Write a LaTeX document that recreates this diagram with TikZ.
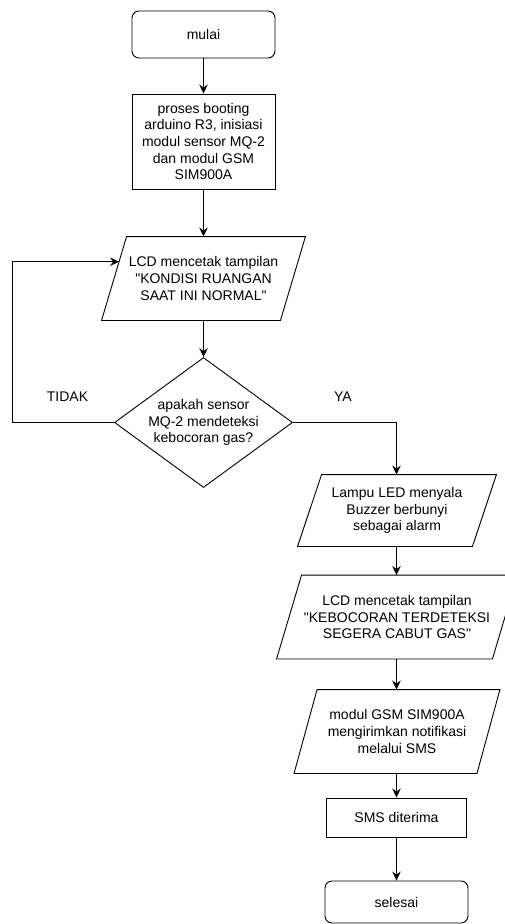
\documentclass[tikz,border=0pt]{standalone}
\usepackage{fontspec}
\setmainfont{Liberation Sans}[Ligatures=TeXOff]
\usetikzlibrary{arrows.meta,positioning,calc,shapes.geometric}

\begin{document}
\begin{tikzpicture}[x=1pt,y=-1pt,line width=0.9pt,
  font=\fontsize{14}{16.7}\selectfont,
  arr/.style={-{Stealth[length=9pt,width=8.5pt,inset=3pt]}},
  startstop/.style={draw,rounded corners=7pt,minimum width=143pt,minimum height=47pt,align=center},
  procbox/.style={draw,minimum width=143pt,minimum height=95pt,align=center,inner sep=0pt},
  iobody/.style={align=center,inner sep=0pt},
  decision/.style={draw,diamond,shape aspect=1.37,minimum width=178pt,minimum height=130pt,
    align=center,inner sep=0pt}]
\useasboundingbox (0,0) rectangle (504,924);

\node[startstop] (mulai) at (203.5,34.5) {mulai};
\node[procbox] (boot) at (203.5,141.5) {proses booting\\arduino R3, inisiasi\\modul sensor MQ-2\\dan modul GSM\\SIM900A};
\node[iobody,minimum width=178pt,minimum height=83pt] (lcdnormal) at (203.5,278.5)
  {LCD mencetak tampilan\\"KONDISI RUANGAN\\SAAT INI NORMAL"};
\draw ([xshift=12.5pt]lcdnormal.north west) -- ([xshift=12.5pt]lcdnormal.north east)
  -- ([xshift=-12.5pt]lcdnormal.south east) -- ([xshift=-12.5pt]lcdnormal.south west) -- cycle;
\node[decision] (cek) at (203.5,422.5) {apakah sensor\\MQ-2 mendeteksi\\kebocoran gas?};

\node[iobody,minimum width=174pt,minimum height=71pt] (alarm) at (397,510.5)
  {Lampu LED menyala\\Buzzer berbunyi\\sebagai alarm};
\draw ([xshift=12pt]alarm.north west) -- ([xshift=12pt]alarm.north east)
  -- ([xshift=-12pt]alarm.south east) -- ([xshift=-12pt]alarm.south west) -- cycle;
\node[iobody,minimum width=215pt,minimum height=83pt] (lcdbocor) at (397,617)
  {LCD mencetak tampilan\\"KEBOCORAN TERDETEKSI\\SEGERA CABUT GAS"};
\draw ([xshift=12.5pt]lcdbocor.north west) -- ([xshift=12.5pt]lcdbocor.north east)
  -- ([xshift=-12.5pt]lcdbocor.south east) -- ([xshift=-12.5pt]lcdbocor.south west) -- cycle;
\node[iobody,minimum width=182pt,minimum height=83pt] (kirim) at (397,731.5)
  {modul GSM SIM900A\\mengirimkan notifikasi\\melalui SMS};
\draw ([xshift=11.5pt]kirim.north west) -- ([xshift=11.5pt]kirim.north east)
  -- ([xshift=-11.5pt]kirim.south east) -- ([xshift=-11.5pt]kirim.south west) -- cycle;
\node[draw,minimum width=140pt,minimum height=39pt] (terima) at (396.5,817.5) {SMS diterima};
\node[startstop,minimum height=42pt] (selesai) at (396.5,902) {selesai};

\node (tidak) at (67.5,397) {TIDAK};
\node (ya) at (343,397) {YA};
\coordinate (masuk) at ([xshift=5pt]$(lcdnormal.south west)!0.7!(lcdnormal.north west)$);

\draw[arr] (mulai.south) -- (boot.north);
\draw[arr] (boot.south) -- (lcdnormal.north);
\draw[arr] (lcdnormal.south) -- (cek.north);
\draw[arr] (cek.east) -| ([xshift=-0.5pt]alarm.north);
\draw[arr] (cek.west) -- ++(-101.5,0) |- (masuk);
\draw[arr] ([xshift=-0.5pt]alarm.south) -- ([xshift=-0.5pt]lcdbocor.north);
\draw[arr] ([xshift=-0.5pt]lcdbocor.south) -- ([xshift=-0.5pt]kirim.north);
\draw[arr] ([xshift=-0.5pt]kirim.south) -- (terima.north);
\draw[arr] (terima.south) -- (selesai.north);
\end{tikzpicture}
\end{document}
